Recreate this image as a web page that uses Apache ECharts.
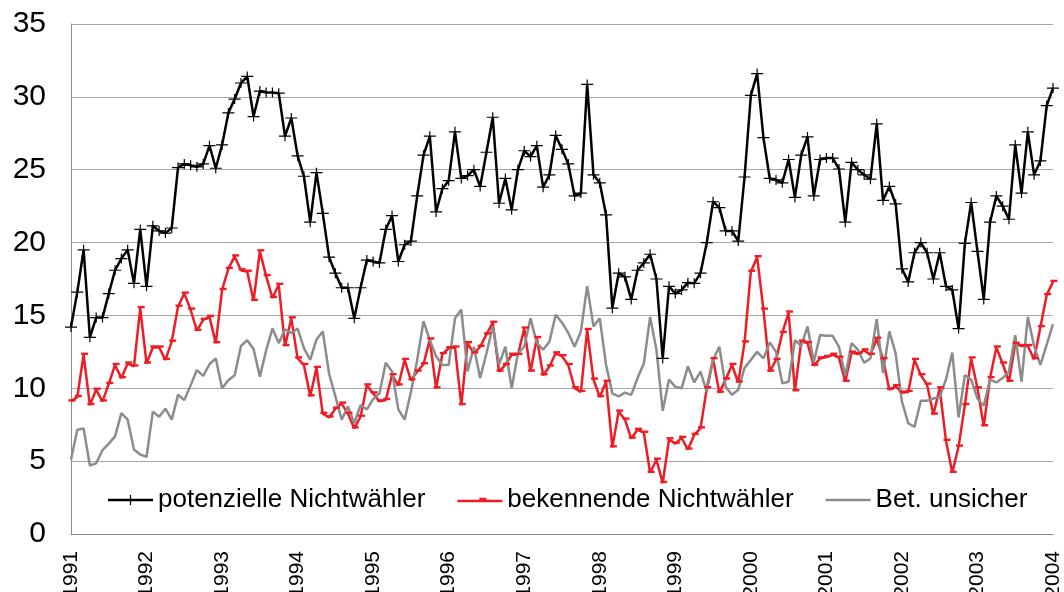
<!DOCTYPE html>
<html>
<head>
<meta charset="utf-8">
<script src="https://cdn.jsdelivr.net/npm/echarts@6/dist/echarts.min.js"></script>
<style>
html,body{margin:0;padding:0;background:#fff;}
#chart{width:1064px;height:592px;}
</style>
</head>
<body>
<div id="chart"></div>
<script>
// Tick labels (years) on the category axis
const years = ['1991','1992','1993','1994','1995','1996','1997','1998','1999','2000','2001','2002','2003','2004'];
const seriesNames = ['potenzielle Nichtwähler','bekennende Nichtwähler','Bet. unsicher'];

// Monthly values, Jan 1991 .. Jan 2004
const potenzielle = [
14.2,16.6,19.5,13.5,14.85,14.85,16.5,18.1,18.9,19.5,17.2,20.9,
17.0,21.15,20.8,20.65,21.0,25.15,25.4,25.3,25.2,25.4,26.65,25.1,
26.7,28.9,29.85,30.95,31.4,28.65,30.4,30.3,30.3,30.25,27.3,28.55,
25.95,24.55,21.4,24.8,22.0,19.0,17.9,16.9,16.9,14.8,16.9,18.8,
18.7,18.6,20.9,21.85,18.7,19.85,20.1,23.2,26.0,27.3,22.1,23.7,
24.25,27.6,24.4,24.6,25.0,23.85,26.2,28.6,22.7,24.4,22.25,25.0,
26.3,25.9,26.65,23.8,24.65,27.35,26.4,25.4,23.2,23.4,30.85,24.65,
24.1,21.9,15.5,17.9,17.65,16.1,18.1,18.6,19.2,17.5,12.05,17.0,
16.5,16.75,17.25,17.2,17.9,20.0,22.8,22.4,20.8,20.8,20.1,24.5,
30.1,31.6,27.2,24.4,24.3,24.1,25.7,23.1,26.0,27.25,23.2,25.7,
25.8,25.8,25.05,21.4,25.5,25.0,24.65,24.35,28.15,22.9,23.85,22.65,
18.2,17.3,19.3,20.0,19.3,17.5,19.3,17.0,16.75,14.1,19.95,22.75,
19.4,16.1,21.4,23.2,22.5,21.6,26.7,23.4,27.6,24.65,25.6,29.4,
30.6];

const bekennende = [
9.1,9.4,12.3,8.85,9.9,9.1,10.3,11.6,10.7,11.7,11.5,15.5,
11.7,12.8,12.8,11.95,13.2,15.6,16.5,15.4,13.95,14.7,14.9,13.1,
16.75,18.2,19.05,18.1,18.0,16.0,19.4,17.7,16.2,17.1,12.9,14.8,
12.05,11.6,9.45,11.4,8.25,8.0,8.6,8.95,8.25,7.25,8.05,10.2,
9.65,9.1,9.2,10.9,10.2,11.95,10.55,11.15,11.65,13.35,10.0,12.35,
12.75,12.8,8.85,13.1,12.4,12.85,13.7,14.5,11.15,11.6,12.3,12.3,
14.1,11.15,13.45,10.9,11.5,12.4,12.2,11.6,10.0,9.75,14.0,10.6,
9.4,10.45,5.95,8.4,7.85,6.55,7.15,6.95,4.2,5.1,3.5,6.5,
6.2,6.6,5.8,6.8,7.25,10.0,12.0,9.7,10.6,11.6,10.4,13.15,
18.0,19.0,15.4,11.15,11.95,13.8,15.2,9.8,13.2,13.1,11.55,12.05,
12.15,12.3,12.1,10.45,12.45,12.35,12.6,12.3,13.4,12.0,9.9,10.15,
9.7,9.75,11.95,10.9,10.25,8.2,10.0,6.4,4.2,6.0,8.85,12.05,
10.0,7.4,10.7,12.8,11.7,10.45,13.05,12.9,12.9,12.0,14.2,16.4,
17.3];

const unsicher = [
5.1,7.15,7.25,4.7,4.85,5.75,6.2,6.7,8.3,7.85,5.8,5.45,
5.3,8.4,8.05,8.6,7.85,9.55,9.2,10.2,11.25,10.85,11.65,12.05,
10.0,10.55,10.9,12.9,13.3,12.7,10.8,12.6,14.1,13.1,14.05,13.8,
14.1,12.75,11.95,13.35,13.9,11.0,9.45,7.85,8.75,7.6,8.85,8.55,
9.25,9.65,11.75,11.15,8.55,7.85,9.75,11.95,14.6,13.3,12.2,11.6,
11.6,14.8,15.4,11.15,12.85,10.7,12.4,14.25,11.65,12.85,10.0,12.4,
12.85,14.8,13.1,12.65,13.2,15.05,14.5,13.8,12.85,13.9,17.0,14.25,
14.8,11.6,9.65,9.45,9.7,9.55,10.7,11.7,14.9,12.65,8.45,10.6,
10.1,10.0,11.5,10.4,11.15,9.75,11.95,12.85,10.1,9.55,9.9,11.4,
11.95,12.5,12.05,13.15,12.5,10.35,10.45,13.3,12.9,14.25,11.8,13.65,
13.6,13.6,12.85,10.85,13.1,12.65,11.75,12.05,14.75,11.05,13.9,12.4,
9.1,7.6,7.35,9.15,9.15,9.3,9.4,10.6,12.45,8.0,10.9,10.6,
9.3,8.8,10.6,10.4,10.7,11.15,13.65,10.45,14.9,12.9,11.6,13.0,
14.4];

// category per month, built from the year tick labels
const categories = [];
years.forEach(y => { for (let m = 1; m <= 12; m++) categories.push(y + '-' + (m < 10 ? '0' + m : m)); });
categories.length = potenzielle.length;

const FONT = 'Liberation Sans, Arial, sans-serif';
const plusPath = 'path://M0,4.4H12V5.6H0Z M5.4,0H6.6V10H5.4Z';
const dashPath = 'path://M0,0H7V2.4H0Z';
// legend icons: line + marker
const iconBlack = 'path://M0,5.75H45V8.25H0Z M16.5,6.4H28.5V7.6H16.5Z M21.9,2H23.1V12H21.9Z';
const iconRed = 'path://M0,5.75H45V8.25H0Z M22,3.6H29V6H22Z';
const iconGray = 'path://M0,5.75H45V8.25H0Z';

const chart = echarts.init(document.getElementById('chart'), null, {renderer: 'canvas'});
chart.setOption({
  animation: false,
  backgroundColor: '#ffffff',
  textStyle: {fontFamily: FONT},
  grid: {left: 71, right: 11, top: 24, bottom: 58, containLabel: false, outerBoundsMode: 'none'},
  legend: {
    left: 103, top: 482,
    itemWidth: 45, itemHeight: 14, itemGap: 32,
    symbolKeepAspect: true,
    textStyle: {fontSize: 26, color: '#000', fontFamily: FONT},
    data: [
      {name: seriesNames[0], icon: iconBlack},
      {name: seriesNames[1], icon: iconRed},
      {name: seriesNames[2], icon: iconGray}
    ]
  },
  xAxis: {
    type: 'category',
    boundaryGap: false,
    data: categories,
    axisLine: {show: true, lineStyle: {color: '#8c8c8c', width: 1}},
    axisTick: {show: false},
    axisLabel: {
      interval: (i) => i % 12 === 0,
      rotate: 90,
      margin: 17,
      fontSize: 21,
      color: '#000',
      fontFamily: FONT,
      formatter: (v) => v.slice(0, 4)
    },
    splitLine: {show: false}
  },
  yAxis: {
    type: 'value',
    min: 0, max: 35, interval: 5,
    axisLine: {show: true, lineStyle: {color: '#8c8c8c', width: 1}},
    axisTick: {show: false},
    axisLabel: {fontSize: 30, color: '#000', margin: 25, fontFamily: FONT},
    splitLine: {show: true, lineStyle: {color: '#a6a6a6', width: 1.2}}
  },
  series: [
    {
      name: seriesNames[0], type: 'line', data: potenzielle,
      symbol: plusPath, symbolSize: [12, 10], showSymbol: true, showAllSymbol: true,
      itemStyle: {color: '#000000'},
      lineStyle: {color: '#000000', width: 2.5}
    },
    {
      name: seriesNames[1], type: 'line', data: bekennende,
      symbol: dashPath, symbolSize: [7, 2.4], symbolOffset: [1, -1], showSymbol: true, showAllSymbol: true,
      itemStyle: {color: '#ee1c24'},
      lineStyle: {color: '#ee1c24', width: 2.5}
    },
    {
      name: seriesNames[2], type: 'line', data: unsicher,
      symbol: 'none', showSymbol: false,
      itemStyle: {color: '#8c8c8c'},
      lineStyle: {color: '#8c8c8c', width: 2.5}
    }
  ]
});
</script>
</body>
</html>
